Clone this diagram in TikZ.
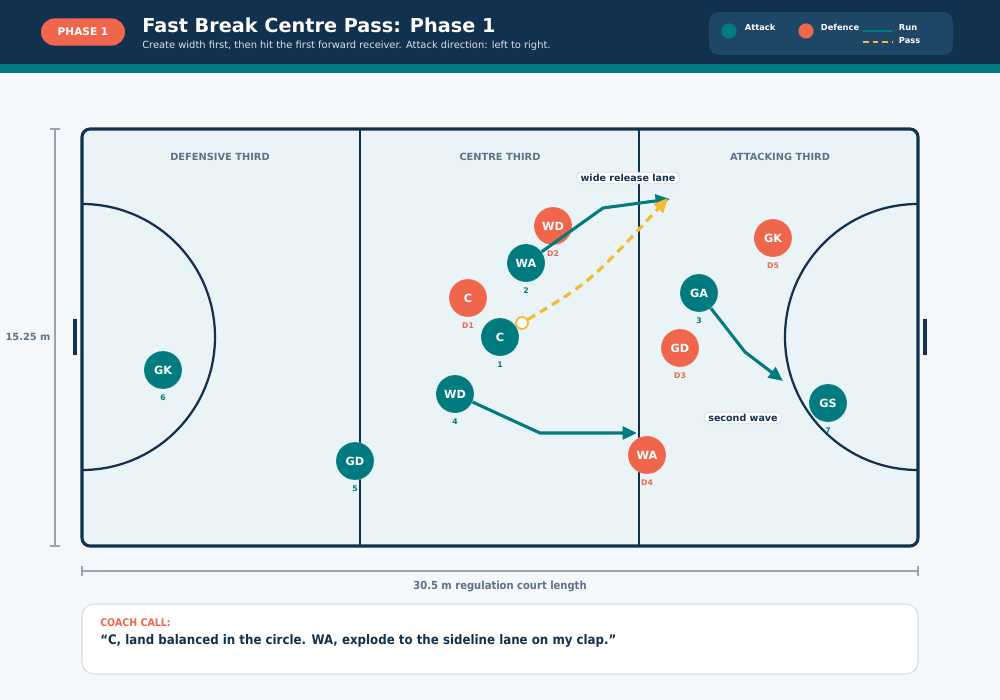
\documentclass[tikz,border=0pt]{standalone}
\usepackage{fontspec}
\usepackage{xcolor}
\usepackage{tikz}
\setmainfont{DejaVu Sans}
\newfontfamily\condfont{DejaVu Sans Condensed}
\definecolor{navy}{RGB}{18, 49, 79}
\definecolor{teal}{RGB}{0, 124, 128}
\definecolor{coral}{RGB}{240, 102, 77}
\definecolor{passyellow}{RGB}{245, 185, 50}
\definecolor{legendbg}{RGB}{30, 70, 102}
\definecolor{courtfill}{RGB}{234, 244, 247}
\definecolor{pagebg}{RGB}{244, 248, 251}
\definecolor{slate}{RGB}{94, 114, 137}
\definecolor{dimgray}{RGB}{154, 165, 180}
\definecolor{boxline}{RGB}{214, 223, 232}
\usetikzlibrary{arrows.meta,positioning,calc}

\begin{document}
\begin{tikzpicture}[
    x=0.25mm, y=-0.25mm,
    player/.style={
        circle,
        minimum size=9.5mm,
        inner sep=0pt,
        text=white,
        font=\fontsize{8}{9}\selectfont\bfseries,
        draw=white, draw opacity=0.45,
        dash pattern=on 0.6pt off 0.6pt,
        line width=0.4pt
    },
    attack/.style={player, fill=teal,
        label={[font=\fontsize{5.5}{6}\selectfont\bfseries, text=teal, label distance=0.2mm]below:#1}},
    defence/.style={player, fill=coral,
        label={[font=\fontsize{5.5}{6}\selectfont\bfseries, text=coral, label distance=0.2mm]below:#1}},
    run/.style={draw=teal, line width=2.2pt,
        -{Triangle[length=3.6mm,width=3.2mm]}},
    pass/.style={draw=passyellow, line width=2.2pt, dash pattern=on 6pt off 4pt,
        -{Triangle[length=3.6mm,width=3.2mm]}},
    third/.style={font=\fontsize{7}{8}\selectfont\bfseries, text=slate},
    tag/.style={rectangle, rounded corners=1.2mm, fill=white, draw=boxline,
        line width=0.6pt, inner xsep=1mm, inner ysep=0.5mm,
        font=\fontsize{6.8}{8}\selectfont\bfseries, text=navy},
    legendtxt/.style={font=\fontsize{5.9}{7}\selectfont\bfseries, text=white, anchor=west}
]
    \useasboundingbox (0,0) rectangle (1000,700);
    \fill[pagebg] (0,0) rectangle (1000,700);

    % Header
    \fill[navy] (0,0) rectangle (1000,64);
    \fill[teal] (0,64) rectangle (1000,73);
    \node[rectangle, rounded corners=3.4mm, fill=coral, minimum width=21mm, minimum height=6.8mm,
          text=white, font=\fontsize{7.5}{8}\selectfont\bfseries] (phase) at (83,32) {PHASE 1};
    \node[anchor=west, inner sep=0pt, text=white, font=\fontsize{13.7}{15}\selectfont\bfseries]
        (title) at (142,25) {Fast Break Centre Pass: Phase 1};
    \node[anchor=west, inner sep=0pt, text=white!85!navy, font=\fontsize{7.05}{8}\selectfont]
        (subtitle) at (142,46) {Create width first, then hit the first forward receiver. Attack direction: left to right.};

    % Legend
    \fill[legendbg, rounded corners=2.5mm] (709,12) rectangle (953,55);
    \node[circle, fill=teal, minimum size=3.8mm, inner sep=0pt] (legatt) at (729,31) {};
    \node[legendtxt] at (740,27) {Attack};
    \node[circle, fill=coral, minimum size=3.8mm, inner sep=0pt] (legdef) at (806,31) {};
    \node[legendtxt] at (816,27) {Defence};
    \coordinate (runa) at (863,31);
    \coordinate (runb) at (892,31);
    \draw[teal, line width=1.6pt] (runa) -- (runb);
    \node[legendtxt] at (894,28) {Run};
    \coordinate (passa) at (863,42);
    \coordinate (passb) at (892,42);
    \draw[passyellow, line width=1.6pt, dash pattern=on 4.2pt off 2.6pt] (passa) -- (passb);
    \node[legendtxt] at (894,41) {Pass};

    % Court
    \draw[navy, line width=2.2pt, fill=courtfill, rounded corners=2mm] (82,129) rectangle (918,546);
    \draw[navy, line width=1.7pt] (360,129) -- (360,546);
    \draw[navy, line width=1.7pt] (639,129) -- (639,546);
    \draw[navy, line width=1.6pt] (82,204) arc (-90:90:133);
    \draw[navy, line width=1.6pt] (918,204) arc (-90:-270:133);
    \draw[navy, line width=2.4pt] (75,319) -- (75,355);
    \draw[navy, line width=2.4pt] (925,319) -- (925,355);
    \node[third] (defthird) at (220,157) {DEFENSIVE THIRD};
    \node[third] (centhird) at (500,157) {CENTRE THIRD};
    \node[third] (attthird) at (780,157) {ATTACKING THIRD};

    % Dimensions
    \draw[dimgray, line width=0.9pt] (55,129) -- (55,546);
    \draw[dimgray, line width=0.9pt] (50,129) -- (60,129);
    \draw[dimgray, line width=0.9pt] (50,546) -- (60,546);
    \node[third] (width) at (28,337) {15.25 m};
    \draw[dimgray, line width=0.9pt] (82,571) -- (918,571);
    \draw[dimgray, line width=0.9pt] (82,566) -- (82,576);
    \draw[dimgray, line width=0.9pt] (918,566) -- (918,576);
    \node[third, font=\condfont\fontsize{7.9}{9}\selectfont\bfseries] (length) at (500,586) {30.5 m regulation court length};

    % Defence
    \node[defence=D1] (dc) at (468,298) {C};
    \node[defence=D2] (dwd) at (553,226) {WD};
    \node[defence=D3] (dgd) at (680,348) {GD};
    \node[defence=D4] (dwa) at (647,455) {WA};
    \node[defence=D5] (dgk) at (773,238) {GK};

    % Attack
    \node[attack=1] (ac) at (500,337) {C};
    \node[attack=2] (awa) at (526,263) {WA};
    \node[attack=3] (aga) at (699,293) {GA};
    \node[attack=4] (awd) at (455,394) {WD};
    \node[attack=5] (agd) at (355,461) {GD};
    \node[attack=6] (agk) at (163,370) {GK};
    \node[attack=7] (ags) at (828,403) {GS};

    % Runs and pass
    \coordinate (waend) at (670,199);
    \coordinate (wdend) at (637,433);
    \coordinate (gaend) at (783,381);
    \draw[run] (awa) -- (603,208) -- (waend);
    \draw[run] (awd) -- (540,433) -- (wdend);
    \draw[run] (aga) -- (745,352) -- (gaend);
    \node[circle, fill=white, draw=passyellow, line width=1.3pt, minimum size=3mm, inner sep=0pt] (ball) at (522,323) {};
    \coordinate (passend) at (668,198);
    \draw[pass] (ball) .. controls (590,282) .. (passend);

    \node[tag] (lane) at (628,178) {wide release lane};
    \node[tag] (wave) at (743,418) {second wave};

    % Coach call
    \draw[boxline, line width=0.8pt, fill=white, rounded corners=3mm] (82,604) rectangle (918,674);
    \node[anchor=west, inner sep=0pt, text=coral, font=\condfont\fontsize{7.5}{8}\selectfont\bfseries]
        (coach) at (100,623) {COACH CALL:};
    \node[anchor=west, inner sep=0pt, text=navy, font=\condfont\fontsize{9.35}{11}\selectfont\bfseries]
        (quote) at (100,641) {“C, land balanced in the circle. WA, explode to the sideline lane on my clap.”};
\end{tikzpicture}
\end{document}
